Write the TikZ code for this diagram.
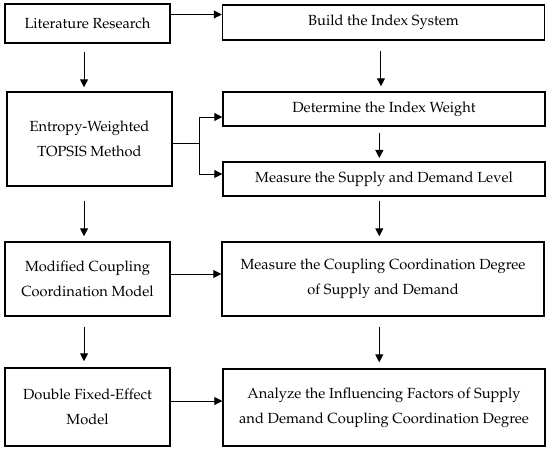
\documentclass[tikz,border=0pt]{standalone}
\usepackage[T1]{fontenc}
\usepackage{mathpazo}
\usetikzlibrary{arrows.meta}

\tikzset{every picture/.style={line width=0.75pt}}
\tikzset{
	box/.style={draw, line width=1.1pt, inner sep=0pt, align=center, font=\fontsize{11pt}{18.75pt}\selectfont},
	leftbox/.style={box, minimum width=123.75pt},
	rightbox/.style={box, minimum width=241.5pt},
	arr/.style={-{Triangle[length=6pt,width=6pt]}, line width=0.75pt}
}

\begin{document}
\begin{tikzpicture}[x=0.75pt,y=0.75pt,yscale=-1,xscale=1]
	\useasboundingbox (0,0) rectangle (550,450);

	%Shape: Rectangle [left column]
	\node [leftbox, minimum height=29.25pt] (lit) at (87.5,23.5) {Literature Research};
	\node [leftbox, minimum height=70.5pt] (ent) at (89.5,139) {Entropy-Weighted\\TOPSIS Method};
	\node [leftbox, minimum height=55.5pt] (mod) at (87.5,279) {Modified Coupling\\Coordination Model};
	\node [leftbox, minimum height=58.5pt] (dbl) at (87.5,407) {Double Fixed-Effect\\Model};

	%Shape: Rectangle [right column]
	\node [rightbox, minimum height=26.25pt] (bld) at (383.5,22.5) {Build the Index System};
	\node [rightbox, minimum height=25.5pt] (det) at (384,109) {Determine the Index Weight};
	\node [rightbox, minimum height=25.5pt] (msl) at (384,179) {Measure the Supply and Demand Level};
	\node [rightbox, minimum height=55.5pt] (mcc) at (383,279) {Measure the Coupling Coordination Degree\\of Supply and Demand};
	\node [rightbox, minimum height=57.75pt] (ana) at (384,407.5) {Analyze the Influencing Factors of Supply\\and Demand Coupling Coordination Degree};

	%Straight Lines [branch points]
	\coordinate (br) at (199,143);
	\coordinate (bt) at (199,117);
	\coordinate (bb) at (199,174);

	%Straight Lines [horizontal]
	\draw [arr] ([yshift=-6.75pt]lit.east) -- ([yshift=-6.75pt]lit.east -| bld.west);
	\draw (ent.east |- br) -- (br);
	\draw (bt) -- (bb);
	\draw [arr] (bt) -- (bt -| det.west);
	\draw [arr] (bb) -- (bb -| msl.west);
	\draw [arr] ([yshift=-3.75pt]mod.east) -- ([yshift=-3.75pt]mod.east -| mcc.west);
	\draw [arr] ([yshift=-4.5pt]dbl.east) -- ([yshift=-4.5pt]dbl.east -| ana.west);

	%Straight Lines [left column]
	\draw [arr, shorten <=6pt, shorten >=3pt] ([xshift=-2.6pt]lit.south) -- ([xshift=-2.6pt]lit.south |- ent.north);
	\draw [arr, shorten <=10.5pt, shorten >=3.75pt] ([xshift=-4.1pt]ent.south) -- ([xshift=-4.1pt]ent.south |- mod.north);
	\draw [arr, shorten <=7.5pt, shorten >=4.5pt] ([xshift=-2.6pt]mod.south) -- ([xshift=-2.6pt]mod.south |- dbl.north);

	%Straight Lines [right column]
	\draw [arr, shorten <=7.5pt, shorten >=3.75pt] ([xshift=-1.9pt]bld.south) -- ([xshift=-1.9pt]bld.south |- det.north);
	\draw [arr, shorten <=4.5pt, shorten >=2.5pt] ([xshift=-3.5pt]det.south) -- ([xshift=-3.5pt]det.south |- msl.north);
	\draw [arr, shorten <=3pt, shorten >=3.75pt] ([xshift=-3.5pt]msl.south) -- ([xshift=-3.5pt]msl.south |- mcc.north);
	\draw [arr, shorten <=7.5pt, shorten >=4.5pt] ([xshift=-2.8pt]mcc.south) -- ([xshift=-2.8pt]mcc.south |- ana.north);

\end{tikzpicture}
\end{document}
